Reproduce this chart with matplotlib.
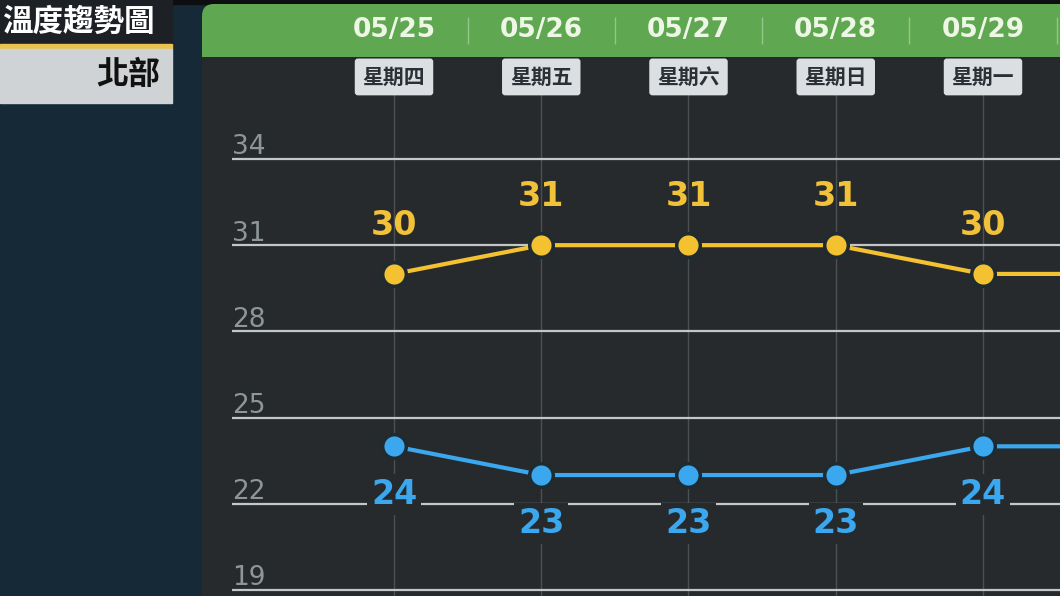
import numpy as np
import matplotlib
matplotlib.use("Agg")
from matplotlib import pyplot as plt
from matplotlib.patches import Rectangle, FancyBboxPatch

plt.rcParams['font.family'] = ['Noto Sans CJK TC', 'DejaVu Sans']

# data (05/30 lies just past the right edge, lines stay flat into it)
dates = ['05/25', '05/26', '05/27', '05/28', '05/29', '05/30']
weekdays = ['星期四', '星期五', '星期六', '星期日', '星期一', '星期二']
high = [30, 31, 31, 31, 30, 30]
low = [24, 23, 23, 23, 24, 24]
yticks = [19, 22, 25, 28, 31, 34]
title = '溫度趨勢圖'
region = '北部'

# colours
ocean = '#162936'
panel = '#262a2c'
green = '#5fa750'
yellow = '#f4c231'
blue = '#3aa7ee'
grid = '#c3c7c7'

W, H = 1060, 596
fig = plt.figure(figsize=(W / 100, H / 100), dpi=100, facecolor=ocean)

# background layer in pixel units (origin top-left)
bg = fig.add_axes([0, 0, 1, 1])
bg.set_xlim(0, W)
bg.set_ylim(H, 0)
bg.axis('off')
bg.add_patch(Rectangle((0, 0), W, 4, color='#0c0e10'))
bg.add_patch(Rectangle((0, 0), 172, 44, color='#1d2125'))
bg.add_patch(Rectangle((0, 44), 172, 5, color='#e9c24f'))
bg.add_patch(Rectangle((0, 49), 172, 54, color='#cfd3d5'))
bg.text(2, 22, title, color='white', fontsize=22, va='center', ha='left', fontweight='bold')
bg.text(160, 75, region, color='#111111', fontsize=23, va='center', ha='right', fontweight='bold')
bg.add_patch(FancyBboxPatch((202, 4), 950, 700, boxstyle='round,pad=0,rounding_size=12', fc=panel, ec='none'))
bg.add_patch(FancyBboxPatch((202, 4), 950, 80, boxstyle='round,pad=0,rounding_size=12', fc=green, ec='none'))

# chart area: starts under the green header
x = np.arange(len(dates))
ax = fig.add_axes([202 / W, 0, (W - 202) / W, (H - 57) / H])
ax.set_facecolor(panel)
for s in ax.spines.values(): s.set_visible(False)
ax.set_xticks([])
ax.set_yticks([])
ax.set_xlim(-1.304, 4.523)
ax.set_ylim(18.79, 37.55)
xmax = ax.get_xlim()[1]

xt = ax.get_xaxis_transform()  # x data, y axes fraction
ax.vlines(x, 0, 0.931, transform=xt, color='#4b5152', lw=1, zorder=1)
ax.hlines(yticks, -1.10, 6, color=grid, lw=1.6, zorder=2)
for t in yticks:
    ax.annotate(str(t), (-1.10, t), xytext=(0, -1), textcoords='offset points',
                color='#8f9696', fontsize=19, ha='left', va='bottom', family='DejaVu Sans')

ax.plot(x, high, color=yellow, lw=3, marker='o', ms=17, mfc=yellow, mec='#1f2b30', mew=2.5, zorder=4)
ax.plot(x, low, color=blue, lw=3, marker='o', ms=17, mfc=blue, mec='#1f2b30', mew=2.5, zorder=4)

for i in x:
    ax.annotate(str(high[i]), (i, high[i]), xytext=(0, 35), textcoords='offset points',
                color='#f2c13a', fontsize=24, fontweight='bold', ha='center', va='center',
                family='DejaVu Sans', zorder=5)
    ax.annotate(str(low[i]), (i, low[i]), xytext=(0, -35), textcoords='offset points',
                color=blue, fontsize=24, fontweight='bold', ha='center', va='center',
                family='DejaVu Sans', zorder=5,
                bbox=dict(boxstyle='square,pad=0.12', fc=panel, ec='none'))
    if i > xmax:
        continue  # header labels only for the days on screen
    ax.text(i, 1.050, dates[i], transform=xt, color='#eef6e6', fontsize=19, fontweight='bold',
            ha='center', va='center', family='DejaVu Sans', clip_on=False)
    ax.text(i, 0.963, weekdays[i], transform=xt, color='#2a3035', fontsize=15, fontweight='bold',
            ha='center', va='center', clip_on=False,
            bbox=dict(boxstyle='round,pad=0.38,rounding_size=0.15', fc='#dcdfe1', ec='none'))

# little separators in the header between dates
ax.vlines(x[:-1] + 0.5, 1.025, 1.075, transform=xt, color='#93c988', lw=1, clip_on=False)

fig.savefig('out.png', dpi=100, facecolor=fig.get_facecolor())
